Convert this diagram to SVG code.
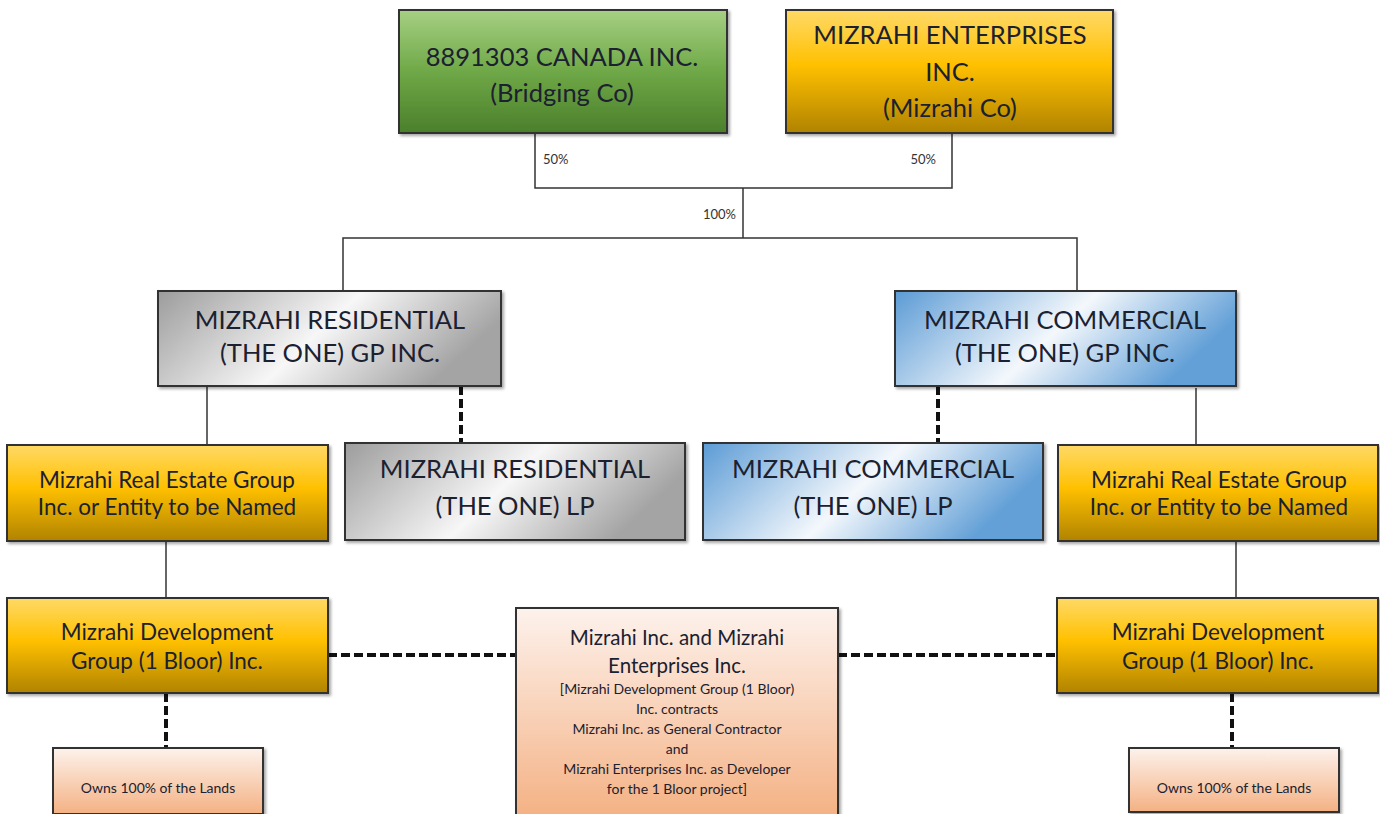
<svg xmlns="http://www.w3.org/2000/svg" width="1380" height="814" viewBox="0 0 1380 814">
<defs>
<linearGradient id="gGreen" x1="0" y1="0" x2="0" y2="1"><stop offset="0" stop-color="#a6d083"/><stop offset="0.5" stop-color="#6fa847"/><stop offset="1" stop-color="#4b7f2b"/></linearGradient>
<linearGradient id="gGold" x1="0" y1="0" x2="0" y2="1"><stop offset="0" stop-color="#ffd966"/><stop offset="0.45" stop-color="#ffc000"/><stop offset="1" stop-color="#b08300"/></linearGradient>
<linearGradient id="gGray" x1="0" y1="0" x2="1" y2="0.3"><stop offset="0" stop-color="#9c9c9c"/><stop offset="0.55" stop-color="#f7f7f7"/><stop offset="1" stop-color="#a4a4a4"/></linearGradient>
<linearGradient id="gBlue" x1="0" y1="0" x2="1" y2="0.3"><stop offset="0" stop-color="#5b9bd5"/><stop offset="0.55" stop-color="#f4f8fc"/><stop offset="1" stop-color="#63a0d7"/></linearGradient>
<linearGradient id="gPeach" x1="0" y1="0" x2="0" y2="1"><stop offset="0" stop-color="#fdf2ec"/><stop offset="1" stop-color="#f4b183"/></linearGradient>
<filter id="sh" x="-5%" y="-5%" width="112%" height="115%"><feDropShadow dx="2" dy="2" stdDeviation="1.5" flood-color="#000" flood-opacity="0.35"/></filter>
</defs>
<style>
.box{stroke:#333;stroke-width:2;filter:url(#sh)}
.t{font-family:Lato,"Open Sans","Liberation Sans",sans-serif;fill:#1b2130;text-anchor:middle}
.big{font-size:25.5px}
.mid{font-size:22.5px}
.cen{font-size:20.5px}
.sm{font-size:14px}
.pct{font-family:Lato,"Liberation Sans",sans-serif;font-size:13px;fill:#333}
.ln{stroke:#333;stroke-width:1.5;fill:none}
.dl{stroke:#111;stroke-width:4;stroke-dasharray:9 4;fill:none}
</style>
<g id="connectors">
<path class="ln" d="M535 133 V188 H952 V133"/>
<path class="ln" d="M743 188 V238"/>
<path class="ln" d="M343 291 V238 H1077 V291"/>
<path class="ln" d="M207 386 V445"/>
<path class="ln" d="M1196 388 V445"/>
<path class="ln" d="M166 541 V598"/>
<path class="ln" d="M1236 541 V598"/>
<path class="dl" d="M461 386 V443"/>
<path class="dl" d="M938 386 V443"/>
<path class="dl" d="M328 655 H516"/>
<path class="dl" d="M838 655 H1057"/>
<path class="dl" d="M166 693 V748"/>
<path class="dl" d="M1232 693 V748"/>
<text class="pct" x="543" y="164">50%</text>
<text class="pct" x="936" y="164" text-anchor="end">50%</text>
<text class="pct" x="736" y="219" text-anchor="end">100%</text>
</g>
<g id="bridging">
<rect class="box" x="399" y="10" width="328" height="123" fill="url(#gGreen)"/>
<text class="t big" x="562" y="66">8891303 CANADA INC.</text>
<text class="t big" x="562" y="102">(Bridging Co)</text>
</g>
<g id="mizrahi-ent">
<rect class="box" x="786" y="10" width="327" height="123" fill="url(#gGold)"/>
<text class="t big" x="950" y="44">MIZRAHI ENTERPRISES</text>
<text class="t big" x="950" y="81">INC.</text>
<text class="t big" x="950" y="117">(Mizrahi Co)</text>
</g>
<g id="res-gp">
<rect class="box" x="158" y="291" width="343" height="95" fill="url(#gGray)"/>
<text class="t big" x="330" y="329">MIZRAHI RESIDENTIAL</text>
<text class="t big" x="330" y="362">(THE ONE) GP INC.</text>
</g>
<g id="com-gp">
<rect class="box" x="895" y="291" width="341" height="95" fill="url(#gBlue)"/>
<text class="t big" x="1065" y="329">MIZRAHI COMMERCIAL</text>
<text class="t big" x="1065" y="362">(THE ONE) GP INC.</text>
</g>
<g id="re-left">
<rect class="box" x="7" y="445" width="321" height="96" fill="url(#gGold)"/>
<text class="t mid" x="167" y="488">Mizrahi Real Estate Group</text>
<text class="t mid" x="167" y="515">Inc. or Entity to be Named</text>
</g>
<g id="res-lp">
<rect class="box" x="345" y="443" width="340" height="97" fill="url(#gGray)"/>
<text class="t big" x="515" y="478">MIZRAHI RESIDENTIAL</text>
<text class="t big" x="515" y="515">(THE ONE) LP</text>
</g>
<g id="com-lp">
<rect class="box" x="703" y="443" width="340" height="97" fill="url(#gBlue)"/>
<text class="t big" x="873" y="478">MIZRAHI COMMERCIAL</text>
<text class="t big" x="873" y="515">(THE ONE) LP</text>
</g>
<g id="re-right">
<rect class="box" x="1058" y="445" width="320" height="96" fill="url(#gGold)"/>
<text class="t mid" x="1219" y="488">Mizrahi Real Estate Group</text>
<text class="t mid" x="1219" y="515">Inc. or Entity to be Named</text>
</g>
<g id="dev-left">
<rect class="box" x="7" y="598" width="321" height="95" fill="url(#gGold)"/>
<text class="t mid" x="167" y="640">Mizrahi Development</text>
<text class="t mid" x="167" y="669">Group (1 Bloor) Inc.</text>
</g>
<g id="contractors">
<rect class="box" x="516" y="608" width="322" height="210" fill="url(#gPeach)"/>
<text class="t cen" x="677" y="645">Mizrahi Inc. and Mizrahi</text>
<text class="t cen" x="677" y="673">Enterprises Inc.</text>
<text class="t sm" x="677" y="694">[Mizrahi Development Group (1 Bloor)</text>
<text class="t sm" x="677" y="714">Inc. contracts</text>
<text class="t sm" x="677" y="734">Mizrahi Inc. as General Contractor</text>
<text class="t sm" x="677" y="754">and</text>
<text class="t sm" x="677" y="774">Mizrahi Enterprises Inc. as Developer</text>
<text class="t sm" x="677" y="794">for the 1 Bloor project]</text>
</g>
<g id="dev-right">
<rect class="box" x="1057" y="598" width="321" height="95" fill="url(#gGold)"/>
<text class="t mid" x="1218" y="640">Mizrahi Development</text>
<text class="t mid" x="1218" y="669">Group (1 Bloor) Inc.</text>
</g>
<g id="lands-left">
<rect class="box" x="53" y="748" width="210" height="66" fill="url(#gPeach)"/>
<text class="t sm" x="158" y="793">Owns 100% of the Lands</text>
</g>
<g id="lands-right">
<rect class="box" x="1129" y="748" width="210" height="64" fill="url(#gPeach)"/>
<text class="t sm" x="1234" y="793">Owns 100% of the Lands</text>
</g>
</svg>
